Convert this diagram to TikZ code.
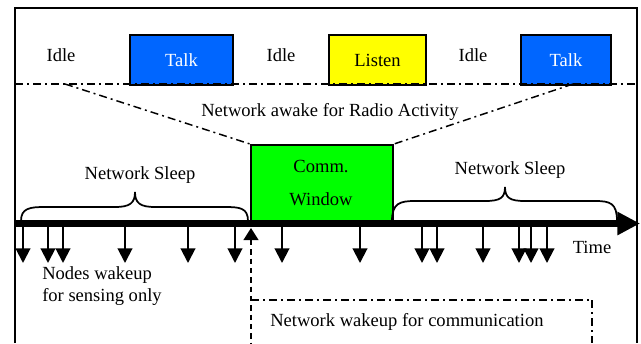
\documentclass[tikz,border=0pt]{standalone}
\usepackage{fontspec}
\setmainfont{Liberation Serif}
\usetikzlibrary{arrows.meta}
\definecolor{talkblue}{RGB}{0,102,255}
\definecolor{listenyellow}{RGB}{255,255,0}
\definecolor{commgreen}{RGB}{0,255,0}
\tikzset{
  lbl/.style={inner sep=0pt, font=\fontsize{13.9pt}{16pt}\selectfont},
  statebox/.style={draw=black, line width=1.5pt, minimum width=103*0.75pt, minimum height=50*0.75pt, inner sep=0pt, anchor=north west, font=\fontsize{13.9pt}{16pt}\selectfont},
  dashdot/.style={line width=1.1pt, dash pattern=on 6pt off 3pt on 1.5pt off 3pt},
  wake/.style={line width=1.5pt, -{Triangle[width=11pt,length=11pt]}},
  axisline/.style={line width=5.2pt, -{Triangle[width=16.5pt,length=17pt]}},
  bracestyle/.style={line width=1.3pt},
}
\begin{document}
\begin{tikzpicture}[x=0.75pt,y=-0.75pt]
\useasboundingbox (0,0) rectangle (641,343);
% frame
\draw[line width=1.3pt] (15,343) -- (15,8) -- (637,8) -- (637,343);
% top states
\node[lbl] (idle1) at (61,55) {Idle};
\node[statebox, fill=talkblue, text=white, minimum width=103*0.75pt] (talk1) at (129,34) {Talk};
\node[lbl] (idle2) at (281,55) {Idle};
\node[statebox, fill=listenyellow, minimum width=97*0.75pt] (listen) at (328,34) {Listen};
\node[lbl] (idle3) at (473,55) {Idle};
\node[statebox, fill=talkblue, text=white, minimum width=90*0.75pt] (talk2) at (520,34) {Talk};
% horizontal dash-dot
\coordinate (hl) at (15,84);
\coordinate (hr) at (637,84);
\draw[dashdot] (hl) -- (hr);
% comm window
\node[draw=black, line width=1.5pt, fill=commgreen, minimum width=142*0.75pt, minimum height=76*0.75pt, anchor=north west, inner sep=0pt] (comm) at (250,144) {};
\node[lbl] (commt1) at (321,166) {Comm.};
\node[lbl] (commt2) at (321,199) {Window};
% zoom lines
\coordinate (zl) at (65,84);
\coordinate (zr) at (573,84);
\draw[dashdot] (zl) -- (comm.north west);
\draw[dashdot] (zr) -- (comm.north east);
\node[lbl] (awake) at (330,112) {Network awake for Radio Activity};
% axis
\coordinate (ax0) at (16,223.5);
\coordinate (ax1) at (640,223.5);
\draw[axisline] (ax0) -- (ax1);
\node[lbl] (time) at (592,247) {Time};
% braces
\draw[bracestyle] (21,221) .. controls (21,208) and (30,207) .. (45,207) -- (115,207) .. controls (130,207) and (135,203) .. (135,192) .. controls (135,203) and (140,207) .. (155,207) -- (225,207) .. controls (240,207) and (248,208) .. (248,221);
\node[lbl] (sleep1) at (140,175) {Network Sleep};
\draw[bracestyle] (392,221) .. controls (392,203) and (400,201) .. (415,201) -- (485,201) .. controls (500,201) and (505,198) .. (505,187) .. controls (505,198) and (510,201) .. (525,201) -- (595,201) .. controls (610,201) and (617,203) .. (617,221);
\node[lbl] (sleep2) at (510,170) {Network Sleep};
% wakeup arrows
\foreach \i/\x in {1/23,2/48,3/63,4/125,5/188,6/235,7/282,8/360,9/422,10/437,11/483,12/519,13/531,14/547} {
  \coordinate (ws\i) at (\x,226);
  \coordinate (we\i) at (\x,263);
  \draw[wake] (ws\i) -- (we\i);
}
\node[lbl, anchor=west] (nodes1) at (42,275) {Nodes wakeup};
\node[lbl, anchor=west] (nodes2) at (42,297) {for sensing only};
% network wakeup
\coordinate (up0) at (251,240);
\coordinate (up1) at (251,228);
\draw[line width=1.5pt, -{Triangle[width=11pt,length=9pt]}] (up0) -- (up1);
\coordinate (vb) at (251,343);
\draw[line width=1.1pt, dash pattern=on 4pt off 3pt] (up0) -- (vb);
\coordinate (bx0) at (251,300);
\coordinate (bx1) at (592,300);
\coordinate (bx2) at (592,343);
\draw[dashdot] (bx0) -- (bx1);
\draw[line width=1.1pt, dash pattern=on 6pt off 3pt on 1.5pt off 3pt] (bx1) -- (bx2);
\node[lbl, anchor=west] (netwake) at (270,322) {Network wakeup for communication};
\end{tikzpicture}
\end{document}
